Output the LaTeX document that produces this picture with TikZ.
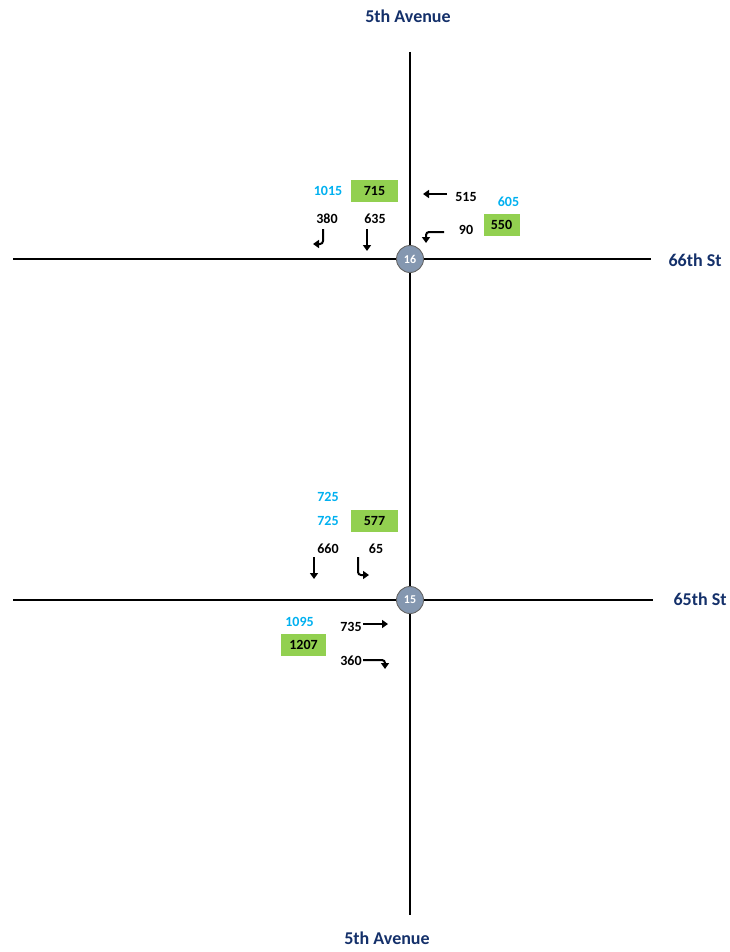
\documentclass[tikz,border=0pt]{standalone}
\usepackage{fontspec}
\setmainfont{Carlito}
\usetikzlibrary{arrows.meta, positioning}
\definecolor{streetblue}{HTML}{14306A}
\definecolor{adtblue}{HTML}{00B0F0}
\definecolor{peakgreen}{HTML}{92D050}
\definecolor{isecgray}{HTML}{8497B0}

\begin{document}
\begin{tikzpicture}[x=1pt, y=-1pt,
    street/.style={font=\fontsize{18}{20}\selectfont\bfseries, text=streetblue},
    vol/.style={font=\fontsize{14}{16}\selectfont\bfseries, inner sep=0pt},
    adt/.style={vol, text=adtblue},
    peak/.style={vol, fill=peakgreen, minimum height=22pt},
    isec/.style={circle, draw=black!60, line width=0.9pt, fill=isecgray, minimum size=27pt, inner sep=0pt, text=white, font=\fontsize{12}{13}\selectfont\bfseries},
    road/.style={line width=1.6pt},
    move/.style={line width=2pt, rounded corners=3pt, -{Triangle[length=6pt,width=8pt]}}]
    \useasboundingbox (0,0) rectangle (730,952);

    % roads
    \coordinate (ave n) at (410,52);
    \coordinate (ave s) at (410,915);
    \coordinate (st66 w) at (13,259);
    \coordinate (st66 e) at (651,259);
    \coordinate (st65 w) at (13,600);
    \coordinate (st65 e) at (653,600);
    \draw[road] (ave n) -- (ave s);
    \draw[road] (st66 w) -- (st66 e);
    \draw[road] (st65 w) -- (st65 e);

    \node[isec] (i16) at (410,259) {16};
    \node[isec] (i15) at (410,600) {15};

    \node[street] (ave top) at (408,16) {5th Avenue};
    \node[street] (ave bot) at (387,938) {5th Avenue};
    \node[street] (lbl66) at (695,260) {66th St};
    \node[street] (lbl65) at (700,599) {65th St};

    % 66th St volumes
    \node[peak, minimum width=47pt] (sb66) at (374.5,191) {715};
    \node[adt] (sb66adt) at (328,191) {1015};
    \node[vol] (sb66l) at (327,219) {380};
    \node[vol] (sb66t) at (375,219) {635};
    \node[vol] (wb66t) at (466,197) {515};
    \node[vol] (wb66l) at (466,230) {90};
    \node[adt] (wb66adt) at (508.5,202) {605};
    \node[peak, minimum width=36pt] (wb66) at (501.5,225) {550};

    \coordinate (a380) at (323,229);
    \coordinate (a635) at (367,229);
    \coordinate (a515) at (447,194);
    \coordinate (a90) at (444,232);
    \draw[move] (a380) -- ++(0,15) -- ++(-10,0);
    \draw[move] (a635) -- ++(0,22);
    \draw[move] (a515) -- ++(-24,0);
    \draw[move] (a90) -- ++(-18,0) -- ++(0,11);

    % 65th St volumes
    \node[adt] (sb65adt2) at (328,497) {725};
    \node[adt] (sb65adt) at (328,521) {725};
    \node[peak, minimum width=47pt] (sb65) at (374.5,521) {577};
    \node[vol] (sb65t) at (328,549) {660};
    \node[vol] (sb65r) at (376,549) {65};
    \node[adt] (eb65adt) at (299.5,622) {1095};
    \node[peak, minimum width=45pt] (eb65) at (303.5,645) {1207};
    \node[vol] (eb65t) at (351,627) {735};
    \node[vol] (eb65r) at (351,661) {360};

    \coordinate (a660) at (314,557);
    \coordinate (a65) at (358,557);
    \coordinate (a735) at (363,624);
    \coordinate (a360) at (363,660);
    \draw[move] (a660) -- ++(0,22);
    \draw[move] (a65) -- ++(0,18) -- ++(11,0);
    \draw[move] (a735) -- ++(25,0);
    \draw[move] (a360) -- ++(22,0) -- ++(0,9);
\end{tikzpicture}
\end{document}
